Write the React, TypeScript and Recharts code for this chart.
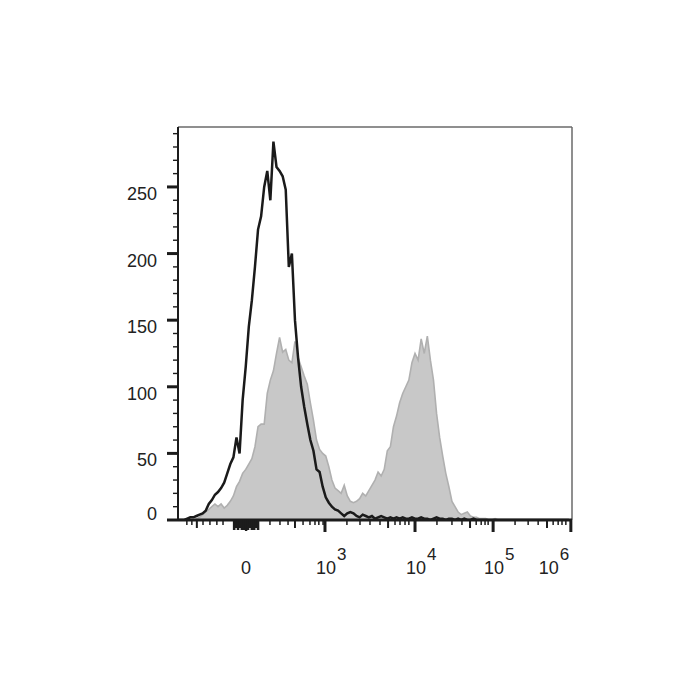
import React from 'react';
import { ComposedChart, Area, Line, XAxis, YAxis, ReferenceLine } from 'recharts';

// histogram bins (channel units, 0..1024 display scale)
const binChannels = [
  0, 8, 16, 24, 32, 40, 48, 56, 64, 72, 80, 88, 96, 104, 112, 120,
  128, 136, 144, 152, 160, 168, 176, 184, 192, 200, 208, 216, 224, 232, 240, 248,
  256, 264, 272, 280, 288, 296, 304, 312, 320, 328, 336, 344, 352, 360, 368, 376,
  384, 392, 400, 408, 416, 424, 432, 440, 448, 456, 464, 472, 480, 488, 496, 504,
  512, 520, 528, 536, 544, 552, 560, 568, 576, 584, 592, 600, 608, 616, 624, 632,
  640, 648, 656, 664, 672, 680, 688, 696, 704, 712, 720, 728, 736, 744, 752, 760,
  768, 776, 784, 792, 800, 808, 816, 824, 832, 840, 848, 856, 864, 872, 880, 888,
  896, 904, 912, 920, 928, 936, 944, 952, 960, 968, 976, 984, 992, 1000, 1008, 1016,
];

// stained sample (grey filled)
const stainedCounts = [
  0, 0, 0, 0, 0, 0, 1, 2, 4, 6, 8, 10, 12, 10, 12, 9,
  11, 14, 18, 25, 29, 35, 38, 42, 46, 55, 70, 72, 72, 95, 105, 112,
  125, 137, 126, 128, 120, 118, 134, 122, 115, 108, 102, 88, 75, 60, 53, 50,
  48, 40, 30, 24, 22, 20, 26, 18, 14, 13, 14, 16, 20, 18, 22, 26,
  30, 36, 33, 38, 52, 55, 70, 78, 88, 95, 100, 105, 118, 125, 120, 136,
  125, 138, 120, 105, 80, 62, 48, 35, 25, 14, 10, 6, 4, 5, 6, 3,
  2, 2, 1, 1, 1, 0, 0, 1, 0, 0, 0, 0, 0, 0, 0, 0,
  0, 0, 0, 0, 0, 0, 0, 0, 0, 0, 0, 0, 0, 0, 0, 0,
];

// unstained control (black line)
const controlCounts = [
  0, 0, 0, 1, 2, 2, 3, 4, 5, 7, 12, 15, 19, 21, 24, 28,
  35, 42, 47, 62, 50, 90, 115, 145, 165, 190, 218, 228, 250, 262, 240, 284,
  265, 262, 258, 248, 190, 200, 150, 122, 100, 85, 72, 60, 52, 38, 36, 25,
  17, 13, 10, 8, 7, 5, 3, 5, 6, 5, 3, 2, 4, 3, 2, 3,
  1, 2, 3, 2, 1, 2, 1, 2, 1, 2, 1, 1, 2, 1, 1, 2,
  1, 1, 0, 1, 2, 1, 1, 0, 1, 1, 0, 1, 0, 1, 0, 0,
  1, 0, 0, 0, 0, 0, 0, 0, 0, 0, 0, 0, 0, 0, 0, 0,
  0, 0, 0, 0, 0, 0, 0, 0, 0, 0, 0, 0, 0, 0, 0, 0,
];

// x axis (logicle-like) tick positions in channel units
const xZeroTick = 177;
const xMajorTicks = [382, 616, 819, 1021];
const xMajorExps = ['3', '4', '5', '6'];
const xMidTicks = [49, 304, 546, 759, 959];
const xBandTicks = [146, 151, 156, 161, 166, 172, 182, 187, 192, 198, 203, 208];
const xMinorTicks = [
  23, 36, 65, 83, 101, 117,
  239, 265, 286, 325, 343, 356, 366, 377,
  439, 473, 499, 525, 564, 577, 590, 600,
  673, 712, 738, 775, 788, 798, 806,
  876, 910, 936, 975, 988, 998, 1008,
];

const yMajorTicks = [0, 50, 100, 150, 200, 250];
const yMinorTicks = [
  10, 20, 30, 40, 60, 70, 80, 90, 110, 120, 130, 140, 160, 170, 180, 190,
  210, 220, 230, 240, 260, 270, 280, 290,
];

const data = binChannels.map((ch, i) => ({
  ch,
  stained: stainedCounts[i],
  control: controlCounts[i],
}));

const allXTicks = [xZeroTick, ...xMajorTicks, ...xMidTicks, ...xBandTicks, ...xMinorTicks].sort((a, b) => a - b);
const allYTicks = [...yMajorTicks, ...yMinorTicks].sort((a, b) => a - b);

const font = '"Liberation Sans", Arial, sans-serif';
const ink = '#1c1c1c';

const XTick = (props: any) => {
  const { x, y, payload } = props;
  const v = payload.value;
  const majorIdx = xMajorTicks.indexOf(v);
  if (majorIdx >= 0) {
    const last = majorIdx === xMajorTicks.length - 1;
    const baseX = last ? x - 22 : x + 1;
    return (
      <g>
        <line x1={x} x2={x} y1={y} y2={y + 12} stroke={ink} strokeWidth={3} />
        <text x={baseX} y={574} textAnchor="middle" fontSize={18} fontFamily={font} fill="#222">10</text>
        <text x={baseX + 11} y={560} textAnchor="start" fontSize={17} fontFamily={font} fill="#222">
          {xMajorExps[majorIdx]}
        </text>
      </g>
    );
  }
  if (v === xZeroTick) {
    return (
      <g>
        <line x1={x} x2={x} y1={y} y2={y + 11} stroke={ink} strokeWidth={2.4} />
        <text x={x} y={574} textAnchor="middle" fontSize={18} fontFamily={font} fill="#222">0</text>
      </g>
    );
  }
  let len = 5;
  let w = 1.5;
  if (xMidTicks.includes(v)) {
    len = 8;
    w = 2;
  } else if (xBandTicks.includes(v)) {
    len = v % 2 === 0 ? 10 : 8;
    w = 2.6;
  }
  return <line x1={x} x2={x} y1={y} y2={y + len} stroke={ink} strokeWidth={w} />;
};

const YTick = (props: any) => {
  const { x, y, payload } = props;
  const v = payload.value;
  const major = v % 50 === 0;
  return (
    <g>
      <line x1={x - (major ? 11 : 5)} x2={x} y1={y} y2={y} stroke={ink} strokeWidth={major ? 3 : 1.4} />
      {major && (
        <text
          x={x - 21}
          y={y + (v === 0 ? -6 : 7)}
          textAnchor="end"
          dominantBaseline="central"
          fontSize={18}
          fontFamily={font}
          fill="#222"
        >
          {v}
        </text>
      )}
    </g>
  );
};

export default function App() {
  return (
    <div style={{ position: 'absolute', left: 0, top: 0, width: 700, height: 700, background: '#fff' }}>
      <ComposedChart
        width={700}
        height={700}
        data={data}
        margin={{ top: 127, right: 128, bottom: 120, left: 118 }}
      >
        <XAxis
          dataKey="ch"
          type="number"
          domain={[0, 1024]}
          ticks={allXTicks}
          interval={0}
          tickSize={0}
          tickMargin={0}
          tickLine={false}
          height={60}
          axisLine={{ stroke: ink, strokeWidth: 3 }}
          tick={<XTick />}
          allowDataOverflow
        />
        <YAxis
          type="number"
          domain={[0, 295]}
          ticks={allYTicks}
          interval={0}
          tickSize={0}
          tickMargin={0}
          tickLine={false}
          width={60}
          axisLine={{ stroke: ink, strokeWidth: 2 }}
          tick={<YTick />}
          allowDataOverflow
        />
        <ReferenceLine y={295} stroke="#6a6a6a" strokeWidth={1.5} />
        <ReferenceLine x={1024} stroke="#6a6a6a" strokeWidth={1.5} />
        <Area
          type="linear"
          dataKey="stained"
          stroke="#b0b0b0"
          strokeWidth={1.6}
          fill="#c8c8c8"
          fillOpacity={1}
          isAnimationActive={false}
          dot={false}
          activeDot={false}
        />
        <Line
          type="linear"
          dataKey="control"
          stroke="#1a1a1a"
          strokeWidth={2.5}
          dot={false}
          activeDot={false}
          isAnimationActive={false}
        />
      </ComposedChart>
    </div>
  );
}
